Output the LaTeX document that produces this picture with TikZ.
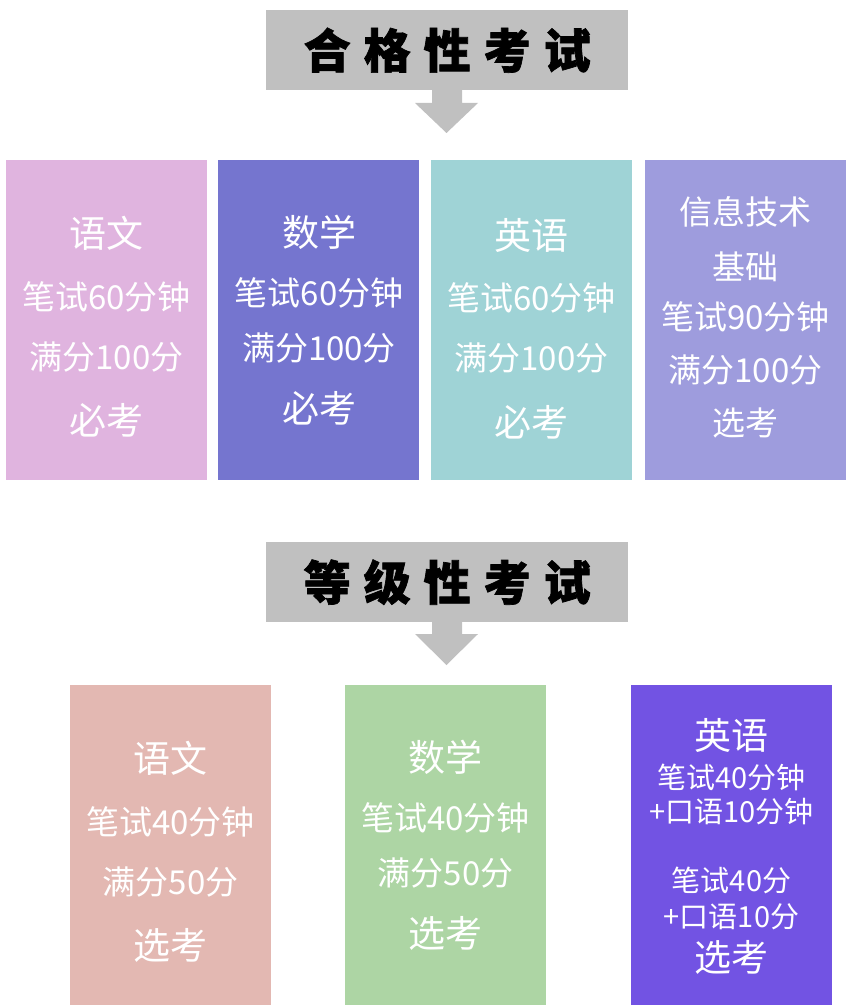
\documentclass[tikz,border=0pt]{standalone}
\usepackage{fontspec}
\newfontfamily\cjk{Noto Sans CJK SC}
\definecolor{titlegray}{HTML}{C0C0C0}
\definecolor{pinkA}{HTML}{E0B4DF}
\definecolor{blueB}{HTML}{7575CF}
\definecolor{cyanC}{HTML}{9FD3D6}
\definecolor{lilacD}{HTML}{9E9CDD}
\definecolor{roseE}{HTML}{E3B8B2}
\definecolor{greenF}{HTML}{ADD5A4}
\definecolor{violetG}{HTML}{7253E3}
\tikzset{
  titlebar/.style={fill=titlegray, minimum width=362pt, minimum height=80pt, inner sep=0pt, anchor=north west,
    font=\cjk\bfseries\addfontfeature{FakeBold=1.5}\fontsize{47}{47}\selectfont},
  subjbox/.style={minimum width=201pt, minimum height=320pt, inner sep=0pt, anchor=north west},
  big/.style={text=white, inner sep=0pt, font=\cjk\fontsize{37}{37}\selectfont},
  small/.style={text=white, inner sep=0pt, font=\cjk\fontsize{33}{33}\selectfont},
  tiny/.style={text=white, inner sep=0pt, font=\cjk\fontsize{29}{29}\selectfont},
  downarrow/.style={fill=titlegray, draw=none}
}
\begin{document}
\begin{tikzpicture}[x=1pt,y=-1pt]
  \useasboundingbox (0,0) rectangle (851,1006);
  % 合格性考试
  \node[titlebar] (pass) at (266,10) {合\kern13pt 格\kern13pt 性\kern13pt 考\kern13pt 试};
  \fill[downarrow] (432,90) -- (462,90) -- (462,103) -- (478,103) -- (446.5,133) -- (415,103) -- (432,103) -- cycle;
  \node[subjbox, fill=pinkA] (p1) at (6,160) {};
  \node[subjbox, fill=blueB] (p2) at (218,160) {};
  \node[subjbox, fill=cyanC] (p3) at (431,160) {};
  \node[subjbox, fill=lilacD] (p4) at (645,160) {};
  \node[big] (p1a) at (106.5,233) {语文};
  \node[small] (p1b) at (106.5,297) {笔试60分钟};
  \node[small] (p1c) at (106.5,357) {满分100分};
  \node[big] (p1d) at (106.5,420) {必考};
  \node[big] (p2a) at (319,232) {数学};
  \node[small] (p2b) at (319,293) {笔试60分钟};
  \node[small] (p2c) at (319,348) {满分100分};
  \node[big] (p2d) at (319,408) {必考};
  \node[big] (p3a) at (531.5,235) {英语};
  \node[small] (p3b) at (531.5,298) {笔试60分钟};
  \node[small] (p3c) at (531.5,358) {满分100分};
  \node[big] (p3d) at (531.5,422) {必考};
  \node[small] (p4a) at (745.5,212) {信息技术};
  \node[small] (p4b) at (745.5,267) {基础};
  \node[small] (p4c) at (745.5,317) {笔试90分钟};
  \node[small] (p4d) at (745.5,370) {满分100分};
  \node[small] (p4e) at (745.5,423) {选考};
  % 等级性考试
  \node[titlebar] (grade) at (266,542) {等\kern13pt 级\kern13pt 性\kern13pt 考\kern13pt 试};
  \fill[downarrow] (432,622) -- (462,622) -- (462,634) -- (478,634) -- (446.5,665) -- (415,634) -- (432,634) -- cycle;
  \node[subjbox, fill=roseE] (g1) at (70,685) {};
  \node[subjbox, fill=greenF] (g2) at (345,685) {};
  \node[subjbox, fill=violetG] (g3) at (631,685) {};
  \node[big] (g1a) at (170.5,758) {语文};
  \node[small] (g1b) at (170.5,822) {笔试40分钟};
  \node[small] (g1c) at (170.5,882) {满分50分};
  \node[big] (g1d) at (170.5,945) {选考};
  \node[big] (g2a) at (445.5,757) {数学};
  \node[small] (g2b) at (445.5,818) {笔试40分钟};
  \node[small] (g2c) at (445.5,873) {满分50分};
  \node[big] (g2d) at (445.5,933) {选考};
  \node[big] (g3a) at (731.5,735) {英语};
  \node[tiny] (g3b) at (731.5,777) {笔试40分钟};
  \node[tiny] (g3c) at (731.5,812) {+口语10分钟};
  \node[tiny] (g3d) at (731.5,880) {笔试40分};
  \node[tiny] (g3e) at (731.5,917) {+口语10分};
  \node[big] (g3f) at (731.5,957) {选考};
\end{tikzpicture}
\end{document}
